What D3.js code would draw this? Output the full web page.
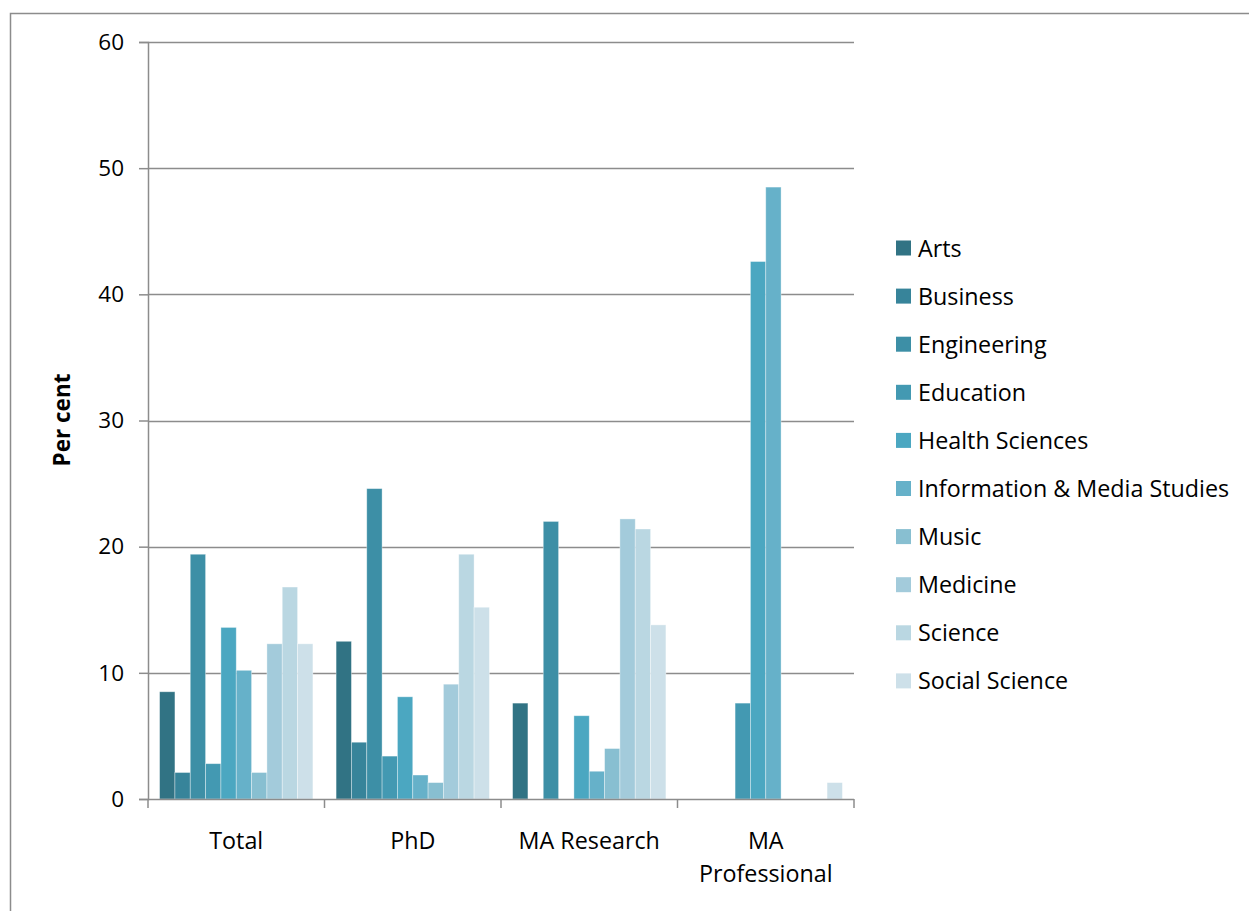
<!DOCTYPE html>
<html>
<head>
<meta charset="utf-8">
<script src="https://cdn.jsdelivr.net/npm/d3@7"></script>
<style>
  html, body { margin: 0; padding: 0; background: #fff; }
  svg { display: block; }
  text { font-family: "Open Sans", Lato, sans-serif; fill: #000; }
</style>
</head>
<body>
<svg id="chart" width="1249" height="911"></svg>
<script>
const categories = ["Total", "PhD", "MA Research", "MA Professional"];
const series = ["Arts", "Business", "Engineering", "Education", "Health Sciences",
  "Information & Media Studies", "Music", "Medicine", "Science", "Social Science"];
const colors = ["#317384", "#37849a", "#3d8fa6", "#4399b2", "#4ba7c1",
  "#66b1c9", "#88bfd1", "#a3cbdb", "#bad7e2", "#cde0e9"];
// values[series][category]
const arts = [8.5, 12.5, 7.6, 0];
const business = [2.1, 4.5, 0, 0];
const engineering = [19.4, 24.6, 22.0, 0];
const education = [2.8, 3.4, 0, 7.6];
const healthSciences = [13.6, 8.1, 6.6, 42.6];
const infoMedia = [10.2, 1.9, 2.2, 48.5];
const music = [2.1, 1.3, 4.0, 0];
const medicine = [12.3, 9.1, 22.2, 0];
const science = [16.8, 19.4, 21.4, 0];
const socialScience = [12.3, 15.2, 13.8, 1.3];
const values = [arts, business, engineering, education, healthSciences,
  infoMedia, music, medicine, science, socialScience];
const yTicks = [0, 10, 20, 30, 40, 50, 60];
const yTitle = "Per cent";

(function () {
const svg = d3.select("#chart");
const pLeft = 148, pRight = 854, pTop = 42, pBottom = 799;
const FONT = "\"Open Sans\", Lato, sans-serif";
const FS = 23.3;

// outer chart border (left and top visible)
svg.append("path")
  .attr("d", `M10.5,911 V13.5 H1249`)
  .attr("fill", "none").attr("stroke", "#8c8c8c").attr("stroke-width", 1.5);

const y = d3.scaleLinear().domain([0, 60]).range([pBottom, pTop]);
const x0 = d3.scaleBand().domain(categories).range([pLeft, pRight]).padding(0);
const bw = x0.bandwidth();
const gap = bw * 0.1314;
const x1 = d3.scaleBand().domain(series).range([gap / 2, bw - gap / 2]).padding(0);

// gridlines
svg.append("g").selectAll("line").data(yTicks.filter(d => d > 0)).join("line")
  .attr("x1", pLeft).attr("x2", pRight)
  .attr("y1", d => Math.round(y(d)) + 0.5).attr("y2", d => Math.round(y(d)) + 0.5)
  .attr("stroke", "#8c8c8c").attr("stroke-width", 1.5);

// bars
const g = svg.append("g");
series.forEach((s, si) => {
  g.selectAll(null).data(categories.map((c, ci) => ({ c, v: values[si][ci] })).filter(d => d.v > 0))
    .join("rect")
    .attr("x", d => x0(d.c) + x1(s))
    .attr("y", d => y(d.v))
    .attr("width", x1.bandwidth())
    .attr("height", d => y(0) - y(d.v))
    .attr("fill", colors[si])
    .attr("stroke", "rgba(255,255,255,0.45)")
    .attr("stroke-width", 0.8);
});

// y axis
const yAxis = d3.axisLeft(y).tickValues(yTicks).tickSize(9).tickPadding(15);
const ya = svg.append("g").attr("transform", `translate(${pLeft},0)`).call(yAxis);
ya.select(".domain").attr("stroke", "#8c8c8c").attr("stroke-width", 1.5);
ya.selectAll(".tick line").attr("stroke", "#8c8c8c").attr("stroke-width", 1.5);
ya.selectAll(".tick text").attr("font-size", 22.5).attr("font-family", FONT).attr("fill", "#000");

// x axis
const xa = svg.append("g").attr("transform", `translate(0,${pBottom})`);
xa.append("line").attr("x1", pLeft).attr("x2", pRight).attr("y1", 0.5).attr("y2", 0.5)
  .attr("stroke", "#8c8c8c").attr("stroke-width", 1.5);
const bounds = categories.map(c => x0(c)).concat([pRight]);
xa.selectAll("line.tk").data(bounds).join("line").attr("class", "tk")
  .attr("x1", d => d).attr("x2", d => d).attr("y1", 0).attr("y2", 9)
  .attr("stroke", "#8c8c8c").attr("stroke-width", 1.5);
const xLabelLines = { "Total": ["Total"], "PhD": ["PhD"], "MA Research": ["MA Research"], "MA Professional": ["MA", "Professional"] };
categories.forEach(c => {
  const t = xa.append("text").attr("text-anchor", "middle").attr("font-size", FS)
    .attr("x", x0(c) + bw / 2).attr("y", 50);
  xLabelLines[c].forEach((ln, i) => {
    t.append("tspan").attr("x", x0(c) + bw / 2).attr("dy", i === 0 ? 0 : 33).text(ln);
  });
});

// y title
svg.append("text").attr("transform", "translate(70,420) rotate(-90)")
  .attr("text-anchor", "middle").attr("font-size", 22.5).attr("font-weight", "bold")
  .text(yTitle);

// legend
const leg = svg.append("g");
series.forEach((s, i) => {
  const cy = 248 + i * 48.1;
  leg.append("rect").attr("x", 896).attr("y", cy - 7.5).attr("width", 15).attr("height", 15)
    .attr("fill", colors[i]);
  leg.append("text").attr("x", 918).attr("y", cy + 8.5).attr("font-size", FS).text(s);
});
})();
</script>
</body>
</html>
